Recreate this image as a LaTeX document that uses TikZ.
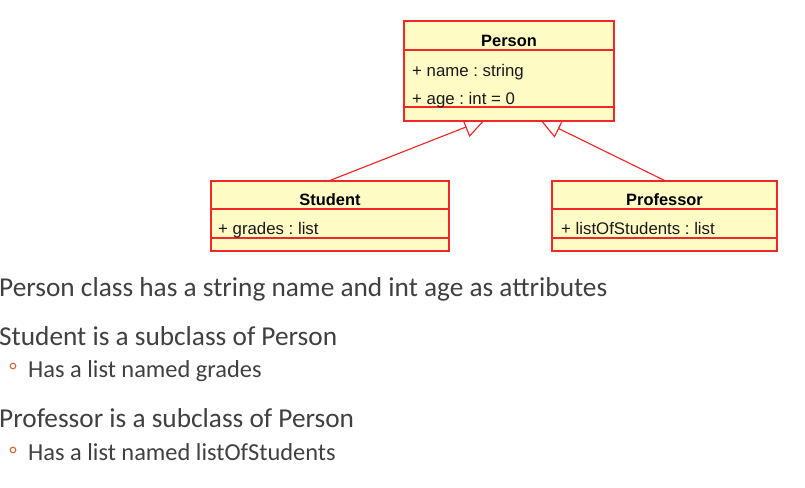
\documentclass[tikz,border=0pt]{standalone}
\usepackage{fontspec}
\setmainfont{Carlito}
\newfontfamily\umlfont{Liberation Sans}
\frenchspacing
\definecolor{umlfill}{RGB}{255,251,196}
\definecolor{umlred}{RGB}{240,40,40}
\definecolor{txtgray}{RGB}{64,64,64}
\definecolor{bulorange}{RGB}{213,105,47}
\pgfdeclarelayer{background}
\pgfsetlayers{background,main}
\begin{document}
\begin{tikzpicture}[x=1pt,y=-1pt,
  umlbox/.style={draw=umlred, fill=umlfill, line width=1.1pt, rectangle, inner sep=0pt},
  conn/.style={draw=umlred, line width=1.15pt},
  divider/.style={draw=umlred, line width=1.1pt},
  umltitle/.style={font=\umlfont\bfseries\fontsize{16.4}{18}\selectfont, text=black, anchor=base, inner sep=0pt},
  umlattr/.style={font=\umlfont\fontsize{16.8}{18}\selectfont, text=black!90, anchor=base west, inner sep=0pt},
  maintext/.style={font=\fontsize{27.3}{32}\selectfont, text=txtgray, anchor=base west, inner sep=0pt},
  subtext/.style={font=\fontsize{24.4}{28}\selectfont, text=txtgray, anchor=base west, inner sep=0pt},
  bulletring/.style={circle, draw=bulorange, line width=1.1pt, minimum size=5.6pt, inner sep=0pt}
]
\useasboundingbox (0,0) rectangle (805,487);
% Person
\node[umlbox, minimum width=210pt, minimum height=100pt] (person) at (509,71) {};
\draw[divider] (404,50) -- (614,50);
\draw[divider] (404,107) -- (614,107);
\node[umltitle] (ptitle) at (509,46.7) {Person};
\node[umlattr] (pname) at (412,76) {+ name : string};
\node[umlattr] (page) at (412,104.3) {+ age : int = 0};
% Student
\node[umlbox, minimum width=238pt, minimum height=70pt] (student) at (330,216) {};
\draw[divider] (211,209) -- (449,209);
\draw[divider] (211,238) -- (449,238);
\node[umltitle] (stitle) at (330,205.7) {Student};
\node[umlattr] (sgrades) at (218,234.3) {+ grades : list};
% Professor
\node[umlbox, minimum width=225pt, minimum height=70pt] (professor) at (664.5,216) {};
\draw[divider] (552,209) -- (777,209);
\draw[divider] (552,238) -- (777,238);
\node[umltitle] (prtitle) at (664.5,205.7) {Professor};
\node[umlattr] (plist) at (561,234.3) {+ listOfStudents : list};
% generalisation connectors (behind the boxes)
\coordinate (sb) at (466,127);
\coordinate (pb) at (558.5,128.5);
\begin{pgfonlayer}{background}
\draw[conn] (student.north) -- (sb);
\draw[conn] (469.6,136) -- (462.4,118) -- (484.6,119.6) -- cycle;
\draw[conn] (professor.north) -- (pb);
\draw[conn] (554.5,136.6) -- (562.5,120.4) -- (540.6,119.6) -- cycle;
\end{pgfonlayer}
% bottom text
\node[maintext] (t1) at (-1,296) {Person class has a string name and int age as attributes};
\node[maintext] (t2) at (-1,345) {Student is a subclass of Person};
\node[bulletring] (b1) at (13,366) {};
\node[subtext] (t3) at (28,377) {Has a list named grades};
\node[maintext] (t4) at (-1,427) {Professor is a subclass of Person};
\node[bulletring] (b2) at (13,450) {};
\node[subtext] (t5) at (28,460) {Has a list named listOfStudents};
\end{tikzpicture}
\end{document}
